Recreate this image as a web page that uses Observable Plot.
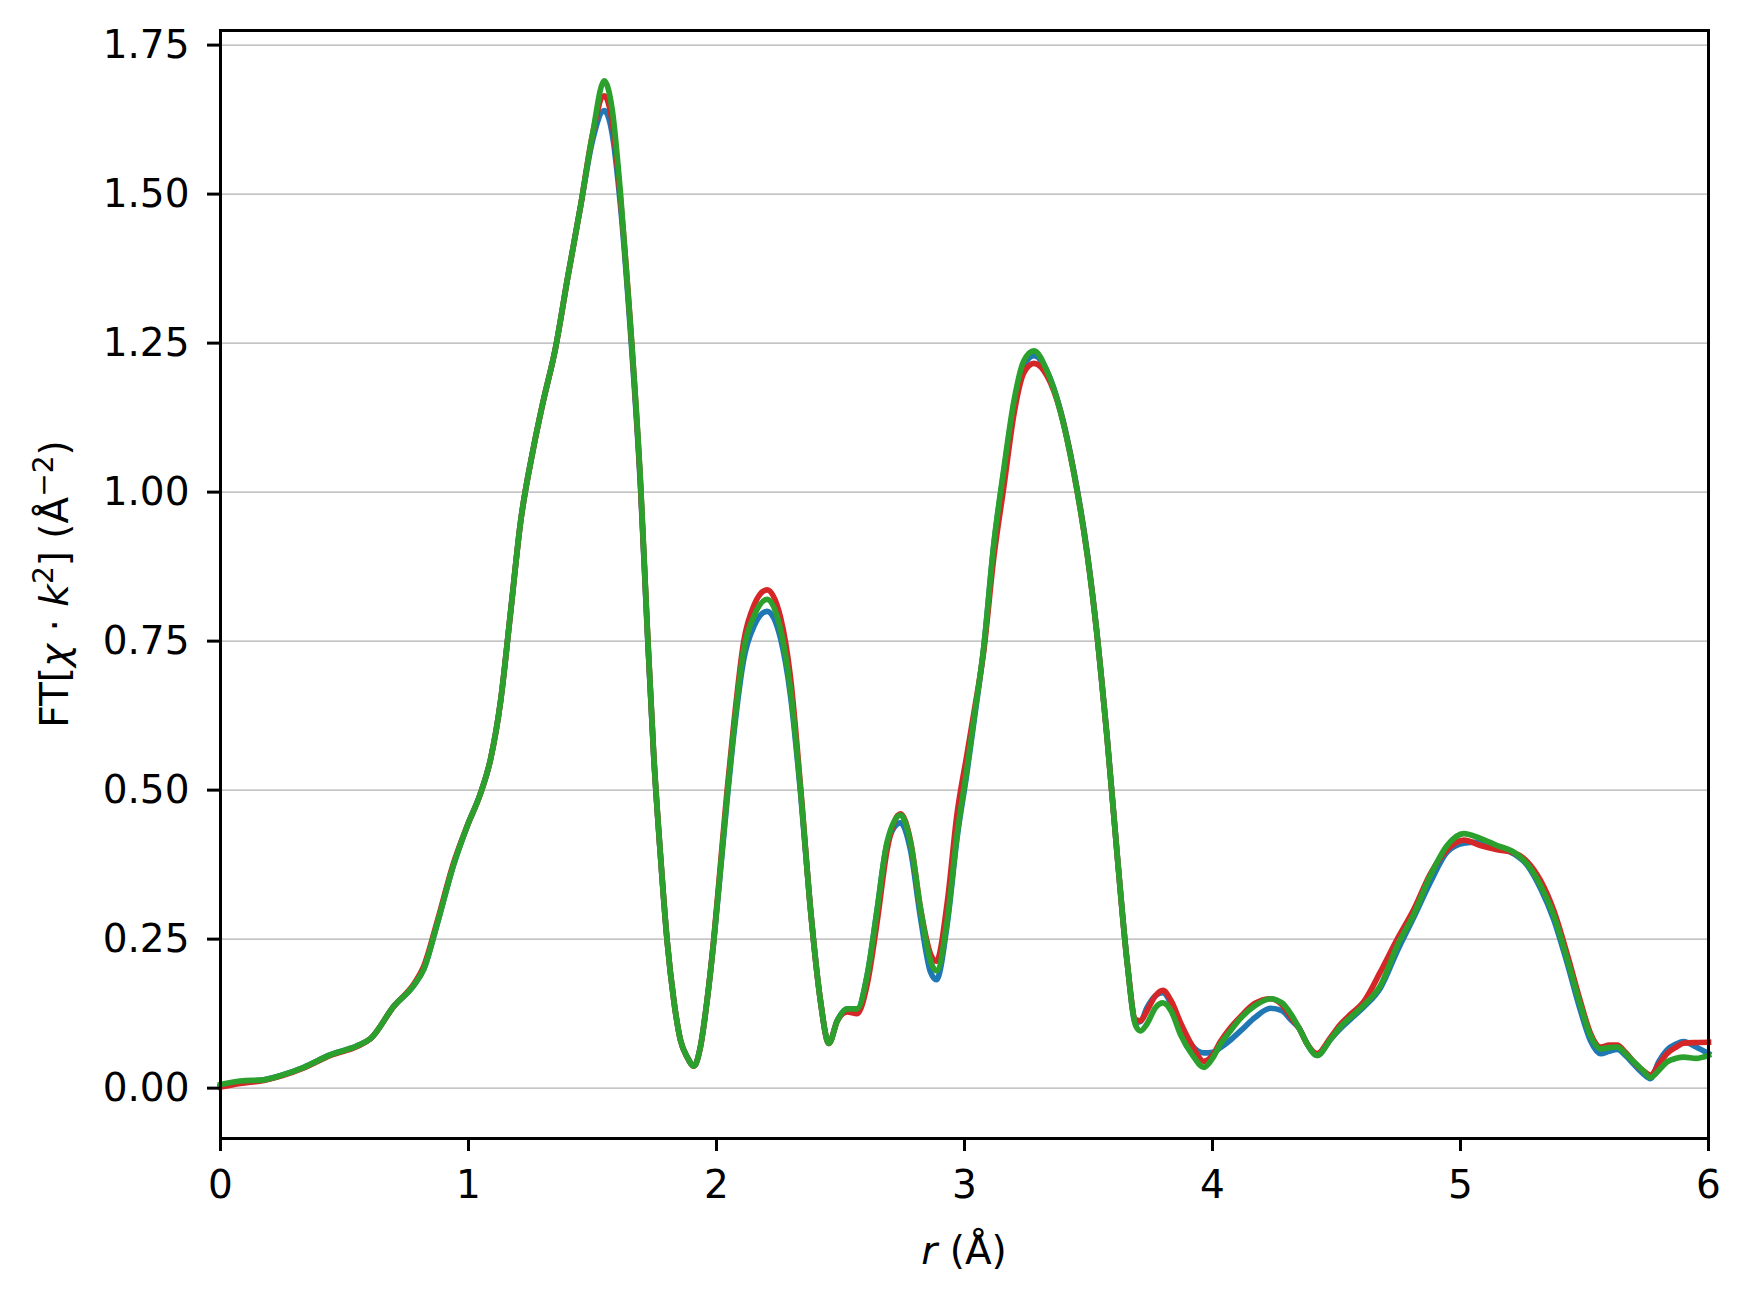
<!DOCTYPE html>
<html>
<head>
<meta charset="utf-8">
<script src="https://cdn.jsdelivr.net/npm/d3@7"></script>
<script src="https://cdn.jsdelivr.net/npm/@observablehq/plot@0.6"></script>
<style>
  html, body { margin: 0; padding: 0; background: white; }
  #chart { width: 1750px; height: 1301px; }
</style>
</head>
<body>
<div id="chart"></div>
<script>
// r grid (Å)
const r = [0, 0.08, 0.175, 0.25, 0.336, 0.444, 0.551, 0.605, 0.70, 0.78, 0.82, 0.874, 0.94, 0.995, 1.048, 1.089, 1.129, 1.169, 1.21, 1.26, 1.30, 1.35, 1.40, 1.452, 1.50, 1.547, 1.58, 1.613, 1.653, 1.694, 1.72, 1.747, 1.774, 1.801, 1.828, 1.855, 1.882, 1.909, 1.935, 1.962, 1.989, 2.016, 2.043, 2.07, 2.11, 2.151, 2.204, 2.258, 2.298, 2.339, 2.379, 2.419, 2.453, 2.487, 2.527, 2.567, 2.608, 2.648, 2.688, 2.742, 2.782, 2.823, 2.863, 2.887, 2.93, 2.97, 3.01, 3.038, 3.078, 3.118, 3.159, 3.199, 3.239, 3.28, 3.333, 3.387, 3.441, 3.495, 3.535, 3.575, 3.616, 3.656, 3.69, 3.71, 3.736, 3.77, 3.80, 3.835, 3.871, 3.92, 3.965, 4.0, 4.032, 4.07, 4.113, 4.17, 4.234, 4.28, 4.315, 4.35, 4.382, 4.422, 4.476, 4.516, 4.56, 4.61, 4.677, 4.745, 4.812, 4.879, 4.946, 5.013, 5.08, 5.148, 5.215, 5.269, 5.323, 5.376, 5.43, 5.484, 5.524, 5.565, 5.60, 5.632, 5.665, 5.699, 5.735, 5.766, 5.80, 5.833, 5.87, 5.90, 5.95, 6.0];

const ftBlue = [0.003, 0.010, 0.014, 0.022, 0.035, 0.056, 0.071, 0.083, 0.138, 0.173, 0.20, 0.276, 0.375, 0.44, 0.494, 0.552, 0.648, 0.796, 0.95, 1.07, 1.15, 1.24, 1.36, 1.48, 1.59, 1.64, 1.60, 1.48, 1.27, 1.005, 0.775, 0.555, 0.39, 0.247, 0.147, 0.08, 0.052, 0.037, 0.069, 0.147, 0.247, 0.365, 0.485, 0.595, 0.72, 0.775, 0.80, 0.755, 0.66, 0.495, 0.30, 0.147, 0.075, 0.113, 0.133, 0.133, 0.19, 0.30, 0.41, 0.445, 0.40, 0.285, 0.195, 0.182, 0.275, 0.42, 0.53, 0.615, 0.74, 0.91, 1.035, 1.145, 1.212, 1.229, 1.203, 1.137, 1.035, 0.898, 0.76, 0.59, 0.39, 0.211, 0.11, 0.112, 0.135, 0.155, 0.16, 0.14, 0.105, 0.07, 0.059, 0.06, 0.068, 0.08, 0.096, 0.118, 0.134, 0.13, 0.115, 0.10, 0.074, 0.055, 0.082, 0.100, 0.117, 0.136, 0.168, 0.23, 0.287, 0.346, 0.396, 0.411, 0.413, 0.405, 0.393, 0.374, 0.335, 0.283, 0.21, 0.13, 0.08, 0.058, 0.062, 0.065, 0.055, 0.04, 0.025, 0.016, 0.045, 0.064, 0.074, 0.078, 0.069, 0.058];

const ftRed = [0.002, 0.008, 0.013, 0.021, 0.034, 0.055, 0.070, 0.083, 0.138, 0.175, 0.205, 0.28, 0.378, 0.44, 0.494, 0.552, 0.648, 0.796, 0.95, 1.07, 1.15, 1.24, 1.36, 1.48, 1.60, 1.665, 1.62, 1.49, 1.28, 1.01, 0.78, 0.558, 0.391, 0.247, 0.147, 0.08, 0.052, 0.037, 0.069, 0.147, 0.25, 0.375, 0.50, 0.612, 0.75, 0.81, 0.836, 0.79, 0.69, 0.505, 0.30, 0.147, 0.075, 0.113, 0.128, 0.125, 0.175, 0.28, 0.40, 0.46, 0.415, 0.30, 0.225, 0.213, 0.31, 0.46, 0.56, 0.63, 0.735, 0.89, 1.01, 1.13, 1.20, 1.216, 1.195, 1.135, 1.032, 0.895, 0.758, 0.587, 0.39, 0.211, 0.115, 0.113, 0.13, 0.155, 0.164, 0.145, 0.11, 0.07, 0.045, 0.055, 0.078, 0.10, 0.12, 0.142, 0.15, 0.14, 0.12, 0.10, 0.074, 0.058, 0.085, 0.107, 0.125, 0.145, 0.195, 0.25, 0.30, 0.36, 0.40, 0.416, 0.407, 0.40, 0.395, 0.38, 0.348, 0.298, 0.225, 0.145, 0.092, 0.069, 0.072, 0.072, 0.06, 0.044, 0.03, 0.022, 0.04, 0.058, 0.069, 0.0755, 0.0766, 0.077];

const ftGreen = [0.006, 0.012, 0.014, 0.022, 0.035, 0.056, 0.071, 0.083, 0.138, 0.173, 0.20, 0.276, 0.375, 0.44, 0.494, 0.552, 0.648, 0.796, 0.95, 1.07, 1.15, 1.24, 1.36, 1.48, 1.60, 1.69, 1.64, 1.50, 1.28, 1.014, 0.78, 0.558, 0.391, 0.247, 0.147, 0.08, 0.052, 0.037, 0.069, 0.147, 0.247, 0.369, 0.491, 0.603, 0.736, 0.792, 0.82, 0.77, 0.67, 0.50, 0.30, 0.147, 0.075, 0.113, 0.133, 0.133, 0.19, 0.30, 0.413, 0.458, 0.413, 0.30, 0.213, 0.197, 0.28, 0.425, 0.536, 0.62, 0.741, 0.912, 1.04, 1.152, 1.22, 1.237, 1.203, 1.135, 1.032, 0.895, 0.758, 0.587, 0.39, 0.211, 0.105, 0.096, 0.108, 0.135, 0.143, 0.128, 0.09, 0.055, 0.035, 0.05, 0.074, 0.095, 0.117, 0.138, 0.15, 0.143, 0.125, 0.10, 0.074, 0.055, 0.082, 0.103, 0.12, 0.139, 0.172, 0.239, 0.292, 0.357, 0.407, 0.427, 0.419, 0.407, 0.396, 0.376, 0.34, 0.29, 0.217, 0.139, 0.088, 0.066, 0.068, 0.069, 0.058, 0.044, 0.03, 0.018, 0.03, 0.044, 0.05, 0.052, 0.050, 0.055];

const xTicks = [0, 1, 2, 3, 4, 5, 6];
const yTicks = [0, 0.25, 0.5, 0.75, 1.0, 1.25, 1.5, 1.75];

const seriesNames = ["blue", "red", "green"];
const seriesColors = ["#1f77b4", "#d62728", "#2ca02c"];
const seriesValues = [ftBlue, ftRed, ftGreen];

const data = seriesNames.flatMap((s, i) => r.map((x, j) => ({ s, r: x, v: seriesValues[i][j] })));

const lineMarks = seriesNames.map((s, i) =>
  Plot.line(data.filter(d => d.s === s), {
    x: "r", y: "v", stroke: seriesColors[i], strokeWidth: 5.7, curve: "monotone-x",
    strokeLinejoin: "round", strokeLinecap: "square"
  })
);

const svg = Plot.plot({
  width: 1750,
  height: 1301,
  marginLeft: 220,
  marginRight: 42,
  marginTop: 30,
  marginBottom: 163,
  style: { fontFamily: "DejaVu Sans", fontSize: "39px", background: "white", color: "black" },
  x: { domain: [0, 6] },
  y: { domain: [-0.0845, 1.7745] },
  marks: [
    Plot.ruleY(yTicks, { stroke: "#b0b0b0", strokeWidth: 1.2 }),
    ...lineMarks,
    Plot.axisX({ ticks: xTicks, tickSize: 13, tickPadding: 19, strokeWidth: 3, fontSize: 39, label: null, tickFormat: d => String(d) }),
    Plot.axisY({ ticks: yTicks, tickSize: 13, tickPadding: 18, strokeWidth: 3, fontSize: 39, label: null, tickFormat: d3.format(".2f") }),
    Plot.frame({ stroke: "black", strokeWidth: 3 })
  ]
});

const root = d3.select(svg);
// y-axis label
const yl = root.append("text")
  .attr("transform", "translate(68,584) rotate(-90)")
  .attr("text-anchor", "middle")
  .attr("font-family", "DejaVu Sans")
  .attr("font-size", 39)
  .attr("fill", "black");
yl.append("tspan").text("FT[");
yl.append("tspan").attr("font-style", "italic").text("χ");
yl.append("tspan").text(" · ");
yl.append("tspan").attr("font-style", "italic").text("k");
yl.append("tspan").attr("font-size", 28).attr("dy", -15).text("2");
yl.append("tspan").attr("dy", 15).text("] (Å");
yl.append("tspan").attr("font-size", 28).attr("dy", -15).text("−2");
yl.append("tspan").attr("dy", 15).text(")");

// x-axis label
const xl = root.append("text")
  .attr("transform", "translate(964,1264)")
  .attr("text-anchor", "middle")
  .attr("font-family", "DejaVu Sans")
  .attr("font-size", 39)
  .attr("fill", "black");
xl.append("tspan").attr("font-style", "italic").text("r");
xl.append("tspan").text(" (Å)");

document.getElementById("chart").appendChild(svg);
</script>
</body>
</html>
